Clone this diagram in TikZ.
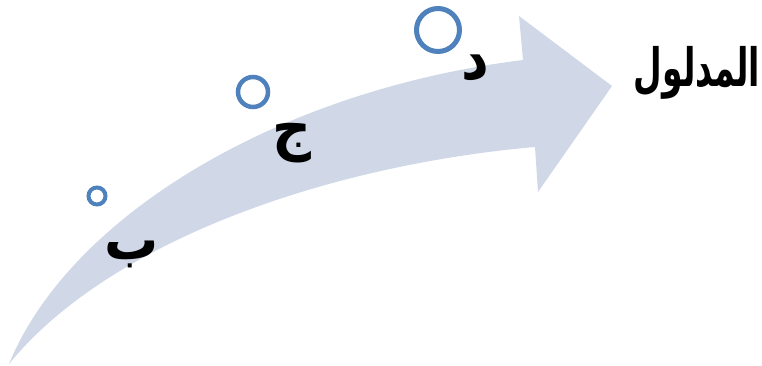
\documentclass[tikz,border=0pt]{standalone}
\usepackage{fontspec}
\usepackage{graphicx}
\TeXXeTstate=1
\newfontfamily\arabicfont[Script=Arabic]{DejaVu Sans}
\definecolor{arrowfill}{RGB}{208,216,232}
\definecolor{ringblue}{RGB}{79,129,189}
\tikzset{
  ring/.style={draw=ringblue},
  arlabel/.style={font=\arabicfont\bfseries\fontsize{54}{60}\selectfont, inner sep=0pt},
}
\begin{document}
\begin{tikzpicture}[x=1pt,y=-1pt]
\useasboundingbox (0,0) rectangle (762,366);
% curved arrow
\fill[arrowfill] (9,364) .. controls (70,215) and (280,90) .. (523,60)
  -- (519,16) -- (612,86) -- (538,192) -- (535,147)
  .. controls (330,165) and (110,240) .. (9,364) -- cycle;
% rings
\draw[ring, line width=4pt] (97,196) circle (8.5);
\draw[ring, line width=4.5pt] (253,92) circle (15);
\draw[ring, line width=5pt] (438,30) circle (21.5);
% labels
\node[arlabel] (b) at (132,254) {\scalebox{1}[1.05]{\beginR ب\endR}};
\node[arlabel] (j) at (292,143) {\scalebox{1}[1.1]{\beginR ج\endR}};
\node[arlabel] (d) at (475,68) {\scalebox{1}[1.1]{\beginR د\endR}};
\node[arlabel, font=\arabicfont\bfseries\fontsize{33}{38}\selectfont] (m) at (697,73) {\scalebox{1}[1.6]{\beginR المدلول\endR}};
\end{tikzpicture}
\end{document}
